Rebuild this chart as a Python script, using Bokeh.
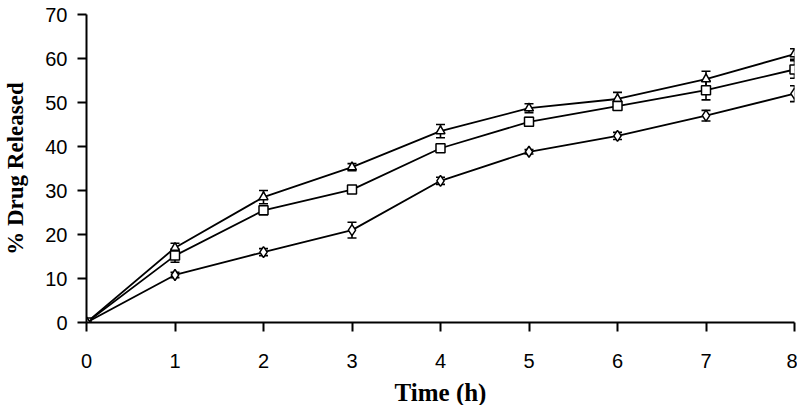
from bokeh.plotting import figure
from bokeh.models import ColumnDataSource, Whisker, FixedTicker, TeeHead
from bokeh.embed import file_html
from bokeh.resources import INLINE

time_h = [0, 1, 2, 3, 4, 5, 6, 7, 8]
tri_vals = [0, 17.0, 28.5, 35.3, 43.5, 48.7, 50.8, 55.3, 61.0]
tri_err = [0, 1.0, 1.5, 0.8, 1.5, 1.0, 1.5, 1.8, 1.2]
sq_vals = [0, 15.2, 25.5, 30.2, 39.6, 45.6, 49.2, 52.8, 57.5]
sq_err = [0, 1.5, 1.0, 0.6, 0.6, 1.0, 0.8, 2.2, 2.0]
dia_vals = [0, 10.8, 16.0, 21.0, 32.2, 38.8, 42.4, 47.0, 52.0]
dia_err = [0, 0.6, 0.8, 1.8, 0.8, 0.5, 0.8, 1.2, 1.8]
y_ticks = [0, 10, 20, 30, 40, 50, 60, 70]

p = figure(frame_width=708, frame_height=308, min_border_left=79, min_border_right=3,
           min_border_top=14, min_border_bottom=80, x_range=(0, 8), y_range=(0, 70),
           output_backend="svg", toolbar_location=None)
p.grid.visible = False
p.outline_line_color = None
p.background_fill_color = "white"

series = [(tri_vals, tri_err, "triangle"), (sq_vals, sq_err, "square"), (dia_vals, dia_err, "diamond")]
for vals, err, marker in series:
    src = ColumnDataSource(dict(x=time_h, y=vals,
                                lo=[v - e for v, e in zip(vals, err)],
                                hi=[v + e for v, e in zip(vals, err)]))
    p.line("x", "y", source=src, line_color="black", line_width=1.8)
    w = Whisker(source=src, base="x", lower="lo", upper="hi", line_color="black", line_width=1.6,
                upper_head=TeeHead(size=9, line_color="black", line_width=1.6),
                lower_head=TeeHead(size=9, line_color="black", line_width=1.6))
    p.add_layout(w)
    sz = 11 if marker == "diamond" else 9
    p.scatter("x", "y", source=src, marker=marker, size=sz, fill_color="white",
              line_color="black", line_width=1.5)

for ax in (p.xaxis[0], p.yaxis[0]):
    ax.axis_line_color = "black"
    ax.axis_line_width = 2
    ax.major_tick_line_color = "black"
    ax.major_tick_line_width = 2
    ax.major_tick_out = 9
    ax.major_tick_in = 0
    ax.minor_tick_line_color = None
    ax.major_label_text_font = "Liberation Sans"
    ax.major_label_text_font_size = "20px"
    ax.major_label_text_color = "black"
    ax.axis_label_text_font = "Liberation Serif"
    ax.axis_label_text_font_style = "bold"
    ax.axis_label_text_color = "black"

p.xaxis.ticker = FixedTicker(ticks=time_h)
p.yaxis.ticker = FixedTicker(ticks=y_ticks)
p.xaxis.axis_label = "Time (h)"
p.yaxis.axis_label = "% Drug Released"
p.xaxis.axis_label_text_font_size = "25px"
p.yaxis.axis_label_text_font_size = "23px"
p.xaxis.major_label_standoff = 22
p.yaxis.major_label_standoff = 10
p.xaxis.axis_label_standoff = 8
p.yaxis.axis_label_standoff = 14

open("out.html", "w").write(file_html(p, INLINE))
